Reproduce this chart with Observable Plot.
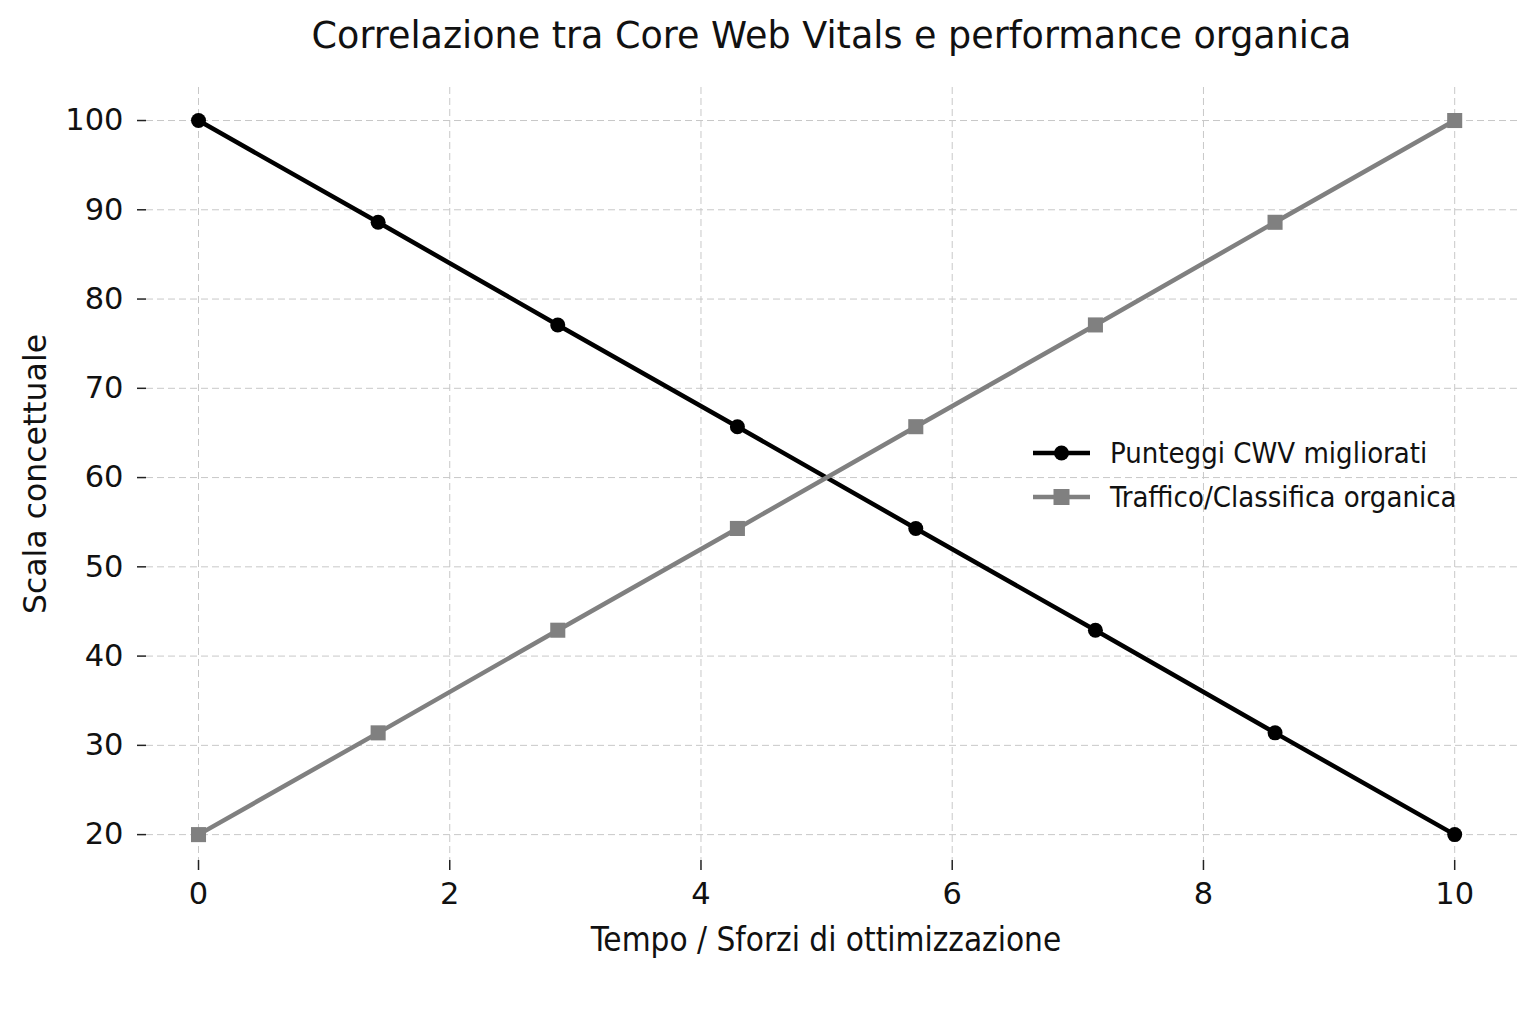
<!DOCTYPE html>
<html>
<head>
<meta charset="utf-8">
<script src="https://cdn.jsdelivr.net/npm/d3@7"></script>
<script src="https://cdn.jsdelivr.net/npm/@observablehq/plot@0.6"></script>
<style>
  html, body { margin: 0; padding: 0; background: #fff; }
  #wrap { position: relative; width: 1536px; height: 1024px; overflow: hidden; background: #fff; }
  #title { position: absolute; left: 146px; width: 1371px; top: 0; height: 72px; line-height: 72px;
           text-align: center; font-family: "DejaVu Sans", sans-serif; font-size: 36.5px; color: #111; }
  #chart { position: absolute; left: 0; top: 72px; }
  #legend { position: absolute; left: 1033px; top: 431px; font-family: "DejaVu Sans Condensed", "DejaVu Sans", sans-serif;
            font-stretch: condensed; font-size: 29px; color: #111; }
  .row { display: flex; align-items: center; height: 44px; }
  .row svg { margin-right: 20px; }
</style>
</head>
<body>
<div id="wrap">
  <div id="title">Correlazione tra Core Web Vitals e performance organica</div>
  <div id="chart"></div>
  <div id="legend"></div>
</div>
<script>
// Data
const steps = [0, 1.43, 2.86, 4.29, 5.71, 7.14, 8.57, 10];
const cwvScores = [100, 88.6, 77.1, 65.7, 54.3, 42.9, 31.4, 20];
const organicTraffic = [20, 31.4, 42.9, 54.3, 65.7, 77.1, 88.6, 100];
const seriesNames = ["Punteggi CWV migliorati", "Traffico/Classifica organica"];
const seriesColors = ["#000000", "#808080"];
const xTicks = [0, 2, 4, 6, 8, 10];
const yTicks = [20, 30, 40, 50, 60, 70, 80, 90, 100];
const xLabel = "Tempo / Sforzi di ottimizzazione";
const yLabel = "Scala concettuale";

const cwvData = steps.map((x, i) => ({x, y: cwvScores[i]}));
const trafficData = steps.map((x, i) => ({x, y: organicTraffic[i]}));

const chart = Plot.plot({
  width: 1536,
  height: 952,
  marginTop: 15,
  marginBottom: 164,
  marginLeft: 146,
  marginRight: 19,
  style: { fontFamily: "DejaVu Sans, sans-serif", background: "#fff", color: "#111" },
  x: { domain: [-0.414, 10.5] },
  y: { domain: [17.1, 103.7] },
  marks: [
    Plot.gridX(xTicks, { stroke: "#c8c8c8", strokeOpacity: 1, strokeWidth: 1, strokeDasharray: "7,4" }),
    Plot.gridY(yTicks, { stroke: "#c8c8c8", strokeOpacity: 1, strokeWidth: 1, strokeDasharray: "7,4" }),
    Plot.axisX(xTicks, { tickSize: 10, tickPadding: 12, fontSize: 30.5, label: null, tickFormat: d3.format("d"), stroke: "#222", strokeWidth: 1.5 }),
    Plot.axisY(yTicks, { tickSize: 9, tickPadding: 14, fontSize: 30.5, label: null, tickFormat: d3.format("d"), stroke: "#222", strokeWidth: 1.5 }),
    Plot.text([xLabel], { frameAnchor: "bottom", lineAnchor: "middle", dy: 80, dx: -6, text: d => d, fontSize: 33,
      fontFamily: "DejaVu Sans Condensed, DejaVu Sans", fill: "#111" }),
    Plot.text([yLabel], { frameAnchor: "left", textAnchor: "middle", lineAnchor: "middle", dx: -111, dy: 0, rotate: -90, text: d => d, fontSize: 31.5, fill: "#111" }),
    Plot.line(cwvData, { x: "x", y: "y", stroke: seriesColors[0], strokeWidth: 4.5 }),
    Plot.dot(cwvData, { x: "x", y: "y", fill: seriesColors[0], r: 7.5, symbol: "circle" }),
    Plot.line(trafficData, { x: "x", y: "y", stroke: seriesColors[1], strokeWidth: 4.5 }),
    Plot.dot(trafficData, { x: "x", y: "y", fill: seriesColors[1], r: 8.5, symbol: "square" })
  ]
});
document.getElementById("chart").appendChild(chart);

// Legend
const legend = document.getElementById("legend");
seriesNames.forEach((name, i) => {
  const row = document.createElement("div");
  row.className = "row";
  const marker = i === 0
    ? `<circle cx="28.5" cy="12" r="7.5" fill="${seriesColors[i]}"/>`
    : `<rect x="20.5" y="4" width="16" height="16" fill="${seriesColors[i]}"/>`;
  row.innerHTML = `<svg width="57" height="24"><line x1="0" x2="57" y1="12" y2="12" stroke="${seriesColors[i]}" stroke-width="4.5"/>${marker}</svg><span>${name}</span>`;
  legend.appendChild(row);
});
</script>
</body>
</html>
